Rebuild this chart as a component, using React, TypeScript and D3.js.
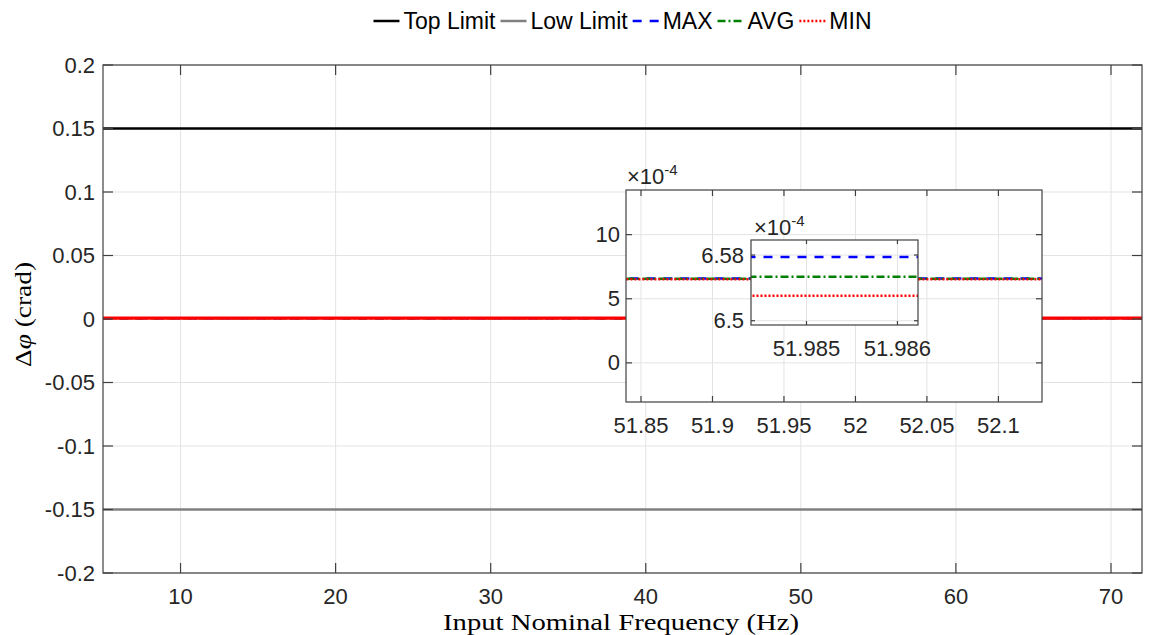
import React from "react";
import * as d3 from "d3";

// ---- data ----
const freqs = [5, 72];
const topLimit = [0.15, 0.15];
const lowLimit = [-0.15, -0.15];
const maxVals = [6.5776e-4, 6.5776e-4];
const avgVals = [6.5536e-4, 6.5536e-4];
const minVals = [6.5304e-4, 6.5304e-4];

const mainXTicks = [10, 20, 30, 40, 50, 60, 70];
const mainYTicks = [-0.2, -0.15, -0.1, -0.05, 0, 0.05, 0.1, 0.15, 0.2];
const mainYTickLabels = ["-0.2", "-0.15", "-0.1", "-0.05", "0", "0.05", "0.1", "0.15", "0.2"];
const in1XTicks = [51.85, 51.9, 51.95, 52, 52.05, 52.1];
const in1XTickLabels = ["51.85", "51.9", "51.95", "52", "52.05", "52.1"];
const in1YTicks = [0, 5e-4, 10e-4];
const in1YTickLabels = ["0", "5", "10"];
const in2XTicks = [51.985, 51.986];
const in2XTickLabels = ["51.985", "51.986"];
const in2YTicks = [6.5e-4, 6.58e-4];
const in2YTickLabels = ["6.5", "6.58"];

const legendItems = [
  { name: "Top Limit", color: "#000000", dash: "none" },
  { name: "Low Limit", color: "#808080", dash: "none" },
  { name: "MAX", color: "#0000ff", dash: "9,8" },
  { name: "AVG", color: "#008000", dash: "8,3,2,3" },
  { name: "MIN", color: "#ff0000", dash: "2,2" },
];

const FONT = "'Liberation Sans', Arial, Helvetica, sans-serif";
const SERIF = "'Liberation Serif', 'DejaVu Serif', serif";
const AX = "#404040";
const GRID = "#e3e3e3";
const TXT = "#262626";
const LEG_FONT = 23;

function measure(text: string, size: number): number {
  try {
    const c = document.createElement("canvas").getContext("2d");
    if (c) {
      c.font = `${size}px 'Liberation Sans'`;
      return c.measureText(text).width;
    }
  } catch (e) {}
  return text.length * size * 0.55;
}

type AxProps = {
  id: string;
  x: d3.ScaleLinear<number, number>;
  y: d3.ScaleLinear<number, number>;
  xTicks: number[];
  xLabels: string[];
  yTicks: number[];
  yLabels: string[];
  tickLen: number;
  fill?: boolean;
  children?: React.ReactNode;
  xLabelGap: number;
  yLabelGap: number;
};

function Axes({ id, x, y, xTicks, xLabels, yTicks, yLabels, tickLen, fill, children, xLabelGap, yLabelGap }: AxProps) {
  const [x0, x1] = x.range();
  const [y0, y1] = y.range(); // y0 bottom, y1 top
  return (
    <g>
      <defs>
        <clipPath id={id}>
          <rect x={x0} y={y1} width={x1 - x0} height={y0 - y1} />
        </clipPath>
      </defs>
      {fill && <rect x={x0} y={y1} width={x1 - x0} height={y0 - y1} fill="#fff" />}
      {xTicks.map((t) => (
        <line key={"gx" + t} x1={x(t)} x2={x(t)} y1={y1} y2={y0} stroke={GRID} strokeWidth={1} />
      ))}
      {yTicks.map((t) => (
        <line key={"gy" + t} x1={x0} x2={x1} y1={y(t)} y2={y(t)} stroke={GRID} strokeWidth={1} />
      ))}
      <g clipPath={`url(#${id})`}>{children}</g>
      <rect x={x0} y={y1} width={x1 - x0} height={y0 - y1} fill="none" stroke={AX} strokeWidth={1.2} />
      {xTicks.map((t) => (
        <g key={"tx" + t}>
          <line x1={x(t)} x2={x(t)} y1={y0} y2={y0 - tickLen} stroke={AX} strokeWidth={1.2} />
          <line x1={x(t)} x2={x(t)} y1={y1} y2={y1 + tickLen} stroke={AX} strokeWidth={1.2} />
        </g>
      ))}
      {yTicks.map((t) => (
        <g key={"ty" + t}>
          <line x1={x0} x2={x0 + tickLen} y1={y(t)} y2={y(t)} stroke={AX} strokeWidth={1.2} />
          <line x1={x1} x2={x1 - tickLen} y1={y(t)} y2={y(t)} stroke={AX} strokeWidth={1.2} />
        </g>
      ))}
      {xTicks.map((t, i) => (
        <text key={"lx" + t} x={x(t)} y={y0 + xLabelGap} textAnchor="middle" dominantBaseline="hanging"
          fontFamily={FONT} fontSize={22} fill={TXT}>{xLabels[i]}</text>
      ))}
      {yTicks.map((t, i) => (
        <text key={"ly" + t} x={x0 - yLabelGap} y={y(t)} textAnchor="end" dominantBaseline="central"
          fontFamily={FONT} fontSize={22} fill={TXT}>{yLabels[i]}</text>
      ))}
    </g>
  );
}

function Series({ x, y, mainView }: { x: d3.ScaleLinear<number, number>; y: d3.ScaleLinear<number, number>; mainView?: boolean }) {
  const line = d3.line<number>().x((_, i) => x(freqs[i])).y((v) => y(v));
  return (
    <g fill="none">
      <path d={line(maxVals) || ""} stroke="#0000ff" strokeWidth={2.5} strokeDasharray="9,8" />
      <path d={line(avgVals) || ""} stroke="#008000" strokeWidth={2.5} strokeDasharray="8,3,2,3" />
      <path d={line(minVals) || ""} stroke="#ff0000" strokeWidth={mainView ? 3.2 : 2.5} strokeDasharray={mainView ? "none" : "2,2"} />
    </g>
  );
}

function Exponent({ x, y }: { x: number; y: number }) {
  return (
    <text x={x} y={y} fontFamily={FONT} fontSize={22} fill={TXT}>
      ×10<tspan fontSize={15} dy={-9}>-4</tspan>
    </text>
  );
}

export default function App() {
  const W = 1152, H = 635;
  const x = d3.scaleLinear().domain([5, 72]).range([103, 1142]);
  const y = d3.scaleLinear().domain([-0.2, 0.2]).range([573, 65]);

  const x1 = d3.scaleLinear().domain([51.8395, 52.1305]).range([626, 1042]);
  const y1 = d3.scaleLinear().domain([-3.05e-4, 13.48e-4]).range([402, 190]);

  const x2 = d3.scaleLinear().domain([51.98439, 51.986226]).range([751, 918]);
  const y2 = d3.scaleLinear().domain([6.4948e-4, 6.5983e-4]).range([325, 240]);

  const line = d3.line<number>().x((_, i) => x(freqs[i])).y((v) => y(v));

  // legend layout
  const sampleW = 26;
  const widths = legendItems.map((it) => measure(it.name, LEG_FONT));
  const total = d3.sum(widths) + legendItems.length * (sampleW + 4) + (legendItems.length - 1) * 5;
  let cx = 622.5 - total / 2;
  const legendLayout = legendItems.map((it, i) => {
    const item = { ...it, x: cx };
    cx += sampleW + 4 + widths[i] + 5;
    return item;
  });

  return (
    <svg width={W} height={H} style={{ position: "absolute", left: 0, top: 0, background: "#fff" }}>
      <rect width={W} height={H} fill="#fff" />
      <Axes id="clipMain" x={x} y={y} xTicks={mainXTicks} xLabels={mainXTicks.map(String)} yTicks={mainYTicks}
        yLabels={mainYTickLabels} tickLen={10} xLabelGap={15} yLabelGap={8}>
        <path d={line(topLimit) || ""} stroke="#000" strokeWidth={2.5} fill="none" />
        <path d={line(lowLimit) || ""} stroke="#808080" strokeWidth={2.5} fill="none" />
        <Series x={x} y={y} mainView />
      </Axes>
      <text x={621} y={630} textAnchor="middle" fontFamily={SERIF} fontSize={24} fill="#000"
        textLength={356} lengthAdjust="spacingAndGlyphs">Input Nominal Frequency (Hz)</text>
      <text transform="translate(31,314.5) rotate(-90)" textAnchor="middle" fontFamily={SERIF} fontSize={24} fill="#000"
        textLength={105} lengthAdjust="spacingAndGlyphs">
        Δ<tspan fontStyle="italic">φ</tspan> (crad)
      </text>

      <Axes id="clipIn1" x={x1} y={y1} xTicks={in1XTicks} xLabels={in1XTickLabels} yTicks={in1YTicks}
        yLabels={in1YTickLabels} tickLen={6} fill xLabelGap={15} yLabelGap={6}>
        <Series x={x1} y={y1} />
      </Axes>
      <Exponent x={627} y={184} />

      <Axes id="clipIn2" x={x2} y={y2} xTicks={in2XTicks} xLabels={in2XTickLabels} yTicks={in2YTicks}
        yLabels={in2YTickLabels} tickLen={4} fill xLabelGap={15} yLabelGap={7}>
        <Series x={x2} y={y2} />
      </Axes>
      <Exponent x={754} y={235} />

      {legendLayout.map((it) => (
        <g key={it.name}>
          <line x1={it.x} x2={it.x + sampleW} y1={21} y2={21} stroke={it.color} strokeWidth={2.5}
            strokeDasharray={it.dash} />
          <text x={it.x + sampleW + 4} y={21} dominantBaseline="central" fontFamily={FONT} fontSize={LEG_FONT} fill="#000">
            {it.name}
          </text>
        </g>
      ))}
    </svg>
  );
}
